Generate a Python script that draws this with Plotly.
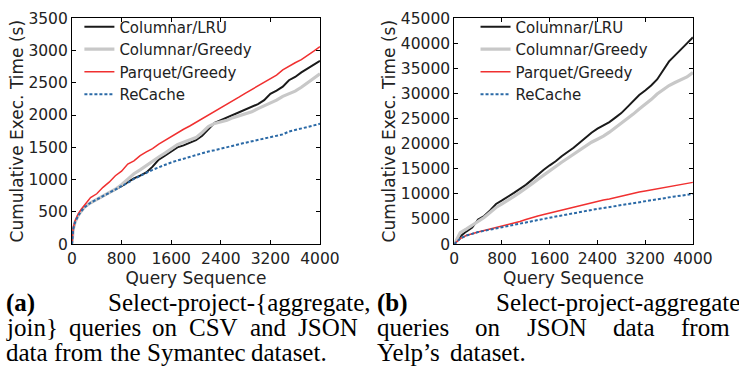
import plotly.graph_objects as go

# ---------------- data ----------------
xa = [0, 20, 50, 100, 150, 200, 300, 400, 500, 600, 700, 800, 900, 1000, 1100, 1200, 1300, 1400,
      1500, 1600, 1700, 1800, 1900, 2000, 2100, 2200, 2300, 2400, 2500, 2600, 2700, 2800, 2900,
      3000, 3100, 3200, 3300, 3400, 3500, 3600, 3700, 3800, 3900, 4000]
a_recache = [0, 230, 340, 440, 510, 570, 640, 690, 740, 800, 850, 900, 950, 1010, 1060, 1110, 1150,
             1190, 1230, 1265, 1295, 1325, 1355, 1385, 1410, 1435, 1455, 1475, 1500, 1525, 1550,
             1570, 1590, 1610, 1630, 1650, 1670, 1700, 1745, 1765, 1790, 1815, 1840, 1865]
a_lru = [0, 230, 340, 440, 510, 570, 640, 690, 740, 800, 850, 900, 960, 1020, 1060, 1110, 1200,
         1310, 1370, 1440, 1500, 1530, 1570, 1610, 1680, 1780, 1880, 1920, 1960, 2010, 2050, 2080,
         2120, 2170, 2230, 2330, 2380, 2440, 2540, 2590, 2660, 2720, 2780, 2840]
a_greedy = [0, 230, 340, 440, 510, 570, 640, 690, 740, 800, 850, 920, 1000, 1090, 1150, 1220, 1290,
            1350, 1410, 1480, 1540, 1580, 1620, 1650, 1730, 1820, 1870, 1890, 1920, 1960, 1990,
            2010, 2050, 2100, 2140, 2180, 2230, 2290, 2330, 2370, 2430, 2500, 2560, 2640]
a_parquet = [0, 250, 360, 470, 540, 600, 720, 780, 880, 960, 1060, 1130, 1240, 1290, 1370, 1430,
             1480, 1550, 1610, 1660, 1720, 1780, 1830, 1885, 1950, 2000, 2055, 2110, 2165, 2225,
             2280, 2340, 2395, 2450, 2510, 2565, 2620, 2700, 2760, 2810, 2860, 2920, 2990, 3060]

xb = [0, 50, 100, 200, 300, 400, 500, 600, 700, 800, 900, 1000, 1100, 1200, 1300, 1400, 1500, 1600,
      1700, 1800, 1900, 2000, 2100, 2200, 2300, 2400, 2500, 2600, 2700, 2800, 2900, 3000, 3100,
      3200, 3300, 3400, 3500, 3600, 3700, 3800, 3900, 4000]
b_lru = [0, 800, 1500, 2500, 3300, 4900, 5600, 6700, 8000, 8700, 9400, 10200, 11000, 11800, 12800,
         13900, 14800, 15700, 16500, 17500, 18300, 19200, 20200, 21200, 22200, 23000, 23600, 24300,
         25200, 26100, 27300, 28500, 29700, 30600, 31600, 32800, 34500, 36400, 37600, 38700, 40000,
         41200]
b_greedy = [0, 1200, 2300, 3000, 3800, 4500, 5300, 6300, 7300, 8000, 8700, 9500, 10300, 11100,
            12000, 12900, 13800, 14700, 15500, 16300, 17100, 17900, 18700, 19500, 20300, 20900,
            21500, 22300, 23200, 24000, 25000, 25900, 26900, 27800, 28800, 29900, 30800, 31600,
            32200, 32700, 33300, 34200]
b_parquet = [0, 600, 1100, 1700, 2100, 2400, 2700, 3000, 3200, 3500, 3800, 4200, 4500, 4900, 5300,
             5600, 5900, 6200, 6500, 6800, 7100, 7400, 7700, 8000, 8200, 8500, 8800, 9000, 9300,
             9600, 9900, 10200, 10400, 10600, 10800, 11000, 11200, 11400, 11600, 11800, 12000, 12300]
b_recache = [0, 600, 1100, 1700, 2100, 2400, 2650, 2900, 3100, 3300, 3550, 3800, 4050, 4300, 4550,
             4800, 5050, 5300, 5500, 5700, 5950, 6150, 6350, 6550, 6800, 7000, 7200, 7400, 7600,
             7800, 8000, 8200, 8400, 8600, 8800, 9000, 9150, 9350, 9500, 9650, 9800, 10000]

series_names = ["Columnar/LRU", "Columnar/Greedy", "Parquet/Greedy", "ReCache"]
x_ticks = [0, 800, 1600, 2400, 3200, 4000]
ya_ticks = [0, 500, 1000, 1500, 2000, 2500, 3000, 3500]
yb_ticks = [0, 5000, 10000, 15000, 20000, 25000, 30000, 35000, 40000, 45000]
x_title = "Query Sequence"
y_title = "Cumulative Exec. Time (s)"
caption_a = [["<b>(a)</b>", "Select-project-{aggregate,"],
             ["join}", "queries", "on", "CSV", "and", "JSON"],
             ["data", "from", "the", "Symantec", "dataset."]]
caption_b = [["<b>(b)</b>", "Select-project-aggregate"],
             ["queries", "on", "JSON", "data", "from"],
             ["Yelp’s", "dataset."]]

# ---------------- styles ----------------
W, H = 739, 383
styles = [
    dict(color="#1a1a1a", width=2),
    dict(color="#c8c8c8", width=3.2),
    dict(color="#f03030", width=1.5),
    dict(color="#2a69a6", width=2, dash="3px,2px"),
]
FONT = "DejaVu Sans"
TXT = "#222222"
TICK_FS = 15.5
TITLE_FS = 17
LEG_FS = 15

fig = go.Figure()
for name, ys, st in zip(series_names, [a_lru, a_greedy, a_parquet, a_recache], styles):
    fig.add_trace(go.Scatter(x=xa, y=ys, mode="lines", name=name, line=st,
                             xaxis="x", yaxis="y", legend="legend"))
for name, ys, st in zip(series_names, [b_lru, b_greedy, b_parquet, b_recache], styles):
    fig.add_trace(go.Scatter(x=xb, y=ys, mode="lines", name=name, line=st,
                             xaxis="x2", yaxis="y2", legend="legend2"))

ydom = [1 - 246.7 / H, 1 - 9.7 / H]
axis_common = dict(showline=True, linecolor="black", linewidth=1, mirror="ticks",
                   ticks="inside", ticklen=4, tickcolor="black", showgrid=False,
                   zeroline=False, tickfont=dict(family=FONT, size=TICK_FS, color=TXT))
xt = dict(text=x_title, font=dict(family=FONT, size=TITLE_FS, color=TXT), standoff=1)
yt = dict(text=y_title, font=dict(family=FONT, size=TITLE_FS, color=TXT), standoff=0)
leg_common = dict(xanchor="left", yanchor="top", bgcolor="rgba(0,0,0,0)", borderwidth=0,
                  font=dict(family=FONT, size=LEG_FS, color=TXT))
fig.update_layout(
    width=W, height=H, margin=dict(l=0, r=0, t=0, b=0),
    paper_bgcolor="white", plot_bgcolor="white",
    font=dict(family=FONT, size=TICK_FS, color=TXT),
    xaxis=dict(domain=[69.3 / W, 326 / W], range=[0, 4000], tickvals=x_ticks, anchor="y",
               title=xt, **axis_common),
    yaxis=dict(domain=ydom, range=[0, 3500], tickvals=ya_ticks,
               ticktext=[str(v) for v in ya_ticks], anchor="x", title=yt, **axis_common),
    xaxis2=dict(domain=[465 / W, 712 / W], range=[0, 4000], tickvals=x_ticks, anchor="y2",
                title=xt, **axis_common),
    yaxis2=dict(domain=ydom, range=[0, 45000], tickvals=yb_ticks,
                ticktext=[str(v) for v in yb_ticks], anchor="x2", title=yt, **axis_common),
    legend=dict(x=77 / W, y=1 - 1.5 / H, **leg_common),
    legend2=dict(x=487 / W, y=1 - 1.5 / H, **leg_common),
)

# ---------------- captions (justified like the paper) ----------------
SERIF = "Liberation Serif"
CS = 25
TW = {" ": 250, "(": 333, ")": 333, "{": 480, "}": 480, "-": 333, ",": 250, ".": 250, "’": 333,
      "a": 444, "b": 500, "c": 444, "d": 500, "e": 444, "f": 333, "g": 500, "h": 500, "i": 278,
      "j": 278, "k": 500, "l": 278, "m": 778, "n": 500, "o": 500, "p": 500, "q": 500, "r": 333,
      "s": 389, "t": 278, "u": 500, "v": 500, "w": 722, "x": 500, "y": 500, "z": 444,
      "C": 667, "J": 389, "N": 722, "O": 722, "S": 556, "V": 722, "Y": 722}
TWB = {"(": 333, ")": 333, "a": 500, "b": 556}


def word_w(w):
    if w.startswith("<b>"):
        s = w[3:-4]
        return sum(TWB.get(c, 556) for c in s) * CS / 1000
    return sum(TW.get(c, 500) for c in w) * CS / 1000


def place_line(words, x0, x1, y, justify):
    widths = [word_w(w) for w in words]
    if justify and len(words) > 1:
        gap = (x1 - x0 - sum(widths)) / (len(words) - 1)
    else:
        gap = 0.34 * CS
    x = x0
    for w, wd in zip(words, widths):
        fig.add_annotation(text=w, x=x / W, y=1 - y / H, xref="paper", yref="paper",
                           xanchor="left", yanchor="middle", showarrow=False, borderpad=0,
                           font=dict(family=SERIF, size=CS, color="black"))
        x += wd + gap


line_y = [308, 334, 360]
place_line(caption_a[0], 0, 368, line_y[0], True)
place_line(caption_a[1], 0, 362, line_y[1], True)
place_line(caption_a[2], 0, 362, line_y[2], False)
place_line(caption_b[0], 384, 751, line_y[0], True)
place_line(caption_b[1], 384, 747, line_y[1], True)
place_line(caption_b[2], 384, 747, line_y[2], False)

fig.write_html("out.html")
